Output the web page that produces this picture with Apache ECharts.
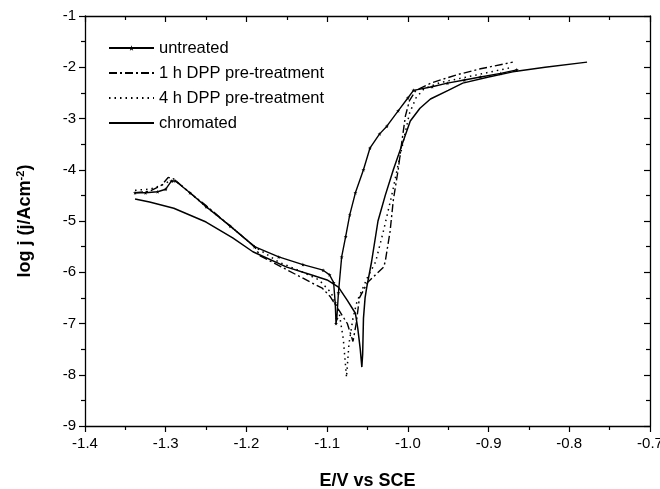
<!DOCTYPE html>
<html><head><meta charset="utf-8">
<script src="https://cdn.jsdelivr.net/npm/echarts@6/dist/echarts.min.js"></script>
<style>html,body{margin:0;padding:0;background:#fff}#c{width:660px;height:489px}</style>
</head><body><div id="c"></div>
<script>
const seriesNames = ['untreated','1 h DPP pre-treatment','4 h DPP pre-treatment','chromated'];
const xTicks = [-1.4,-1.3,-1.2,-1.1,-1.0,-0.9,-0.8,-0.7];
const yTicks = [-1,-2,-3,-4,-5,-6,-7,-8,-9];

const untreatedE = [-1.338,-1.325,-1.31,-1.30,-1.293,-1.288,-1.27,-1.25,-1.22,-1.19,-1.16,-1.13,-1.105,-1.097,-1.092,-1.090,-1.089,-1.088,-1.086,-1.082,-1.077,-1.072,-1.065,-1.055,-1.047,-1.035,-1.026,-1.012,-1.0,-0.993,-0.97,-0.951,-0.93,-0.91,-0.885,-0.865];
const untreatedJ = [-4.45,-4.45,-4.43,-4.38,-4.22,-4.22,-4.45,-4.72,-5.1,-5.5,-5.7,-5.85,-5.96,-6.05,-6.2,-6.6,-7.0,-6.9,-6.4,-5.7,-5.3,-4.88,-4.45,-4.0,-3.58,-3.3,-3.15,-2.85,-2.6,-2.45,-2.38,-2.31,-2.25,-2.19,-2.12,-2.05];

const dpp1E = [-1.338,-1.32,-1.305,-1.297,-1.29,-1.27,-1.25,-1.22,-1.19,-1.183,-1.15,-1.12,-1.106,-1.096,-1.085,-1.075,-1.068,-1.064,-1.06,-1.05,-1.04,-1.03,-1.028,-1.022,-1.018,-1.012,-1.007,-1.003,-0.998,-0.99,-0.97,-0.94,-0.91,-0.87];
const dpp1J = [-4.45,-4.42,-4.3,-4.15,-4.18,-4.45,-4.7,-5.1,-5.5,-5.68,-5.95,-6.2,-6.31,-6.48,-6.75,-7.0,-7.35,-7.0,-6.5,-6.2,-6.05,-5.9,-5.79,-5.2,-4.59,-4.0,-3.4,-2.95,-2.65,-2.45,-2.3,-2.15,-2.03,-1.9];

const dpp4E = [-1.338,-1.32,-1.305,-1.295,-1.285,-1.27,-1.25,-1.22,-1.19,-1.16,-1.13,-1.11,-1.095,-1.085,-1.08,-1.076,-1.073,-1.068,-1.063,-1.05,-1.04,-1.03,-1.02,-1.012,-1.005,-0.998,-0.99,-0.98,-0.96,-0.93,-0.9,-0.87];
const dpp4J = [-4.4,-4.38,-4.3,-4.22,-4.25,-4.45,-4.72,-5.1,-5.5,-5.8,-6.0,-6.15,-6.4,-6.8,-7.3,-8.05,-7.4,-6.9,-6.57,-6.1,-5.8,-5.18,-4.5,-3.9,-3.4,-2.9,-2.6,-2.42,-2.3,-2.2,-2.1,-2.0];

const chromE = [-1.338,-1.32,-1.29,-1.25,-1.217,-1.192,-1.15,-1.12,-1.1,-1.086,-1.075,-1.065,-1.062,-1.059,-1.057,-1.056,-1.055,-1.053,-1.051,-1.045,-1.037,-1.028,-1.018,-1.007,-0.997,-0.985,-0.972,-0.95,-0.932,-0.9,-0.87,-0.83,-0.778];
const chromJ = [-4.57,-4.63,-4.75,-5.02,-5.33,-5.6,-5.9,-6.05,-6.15,-6.29,-6.55,-6.8,-7.1,-7.5,-7.85,-7.6,-6.9,-6.5,-6.3,-5.8,-5.0,-4.5,-4.0,-3.5,-3.05,-2.8,-2.62,-2.45,-2.31,-2.19,-2.09,-2.0,-1.9];

const zip = (a,b) => a.map((v,i)=>[v,b[i]]);
const FONT = 'Liberation Sans, Arial, sans-serif';
const chart = echarts.init(document.getElementById('c'), null, {renderer:'canvas'});
const starPath = 'path://M50,0 L61,35 L98,35 L68,57 L79,91 L50,70 L21,91 L32,57 L2,35 L39,35 Z';
const clear = 'rgba(0,0,0,0)';

const base = {type:'line', xAxisIndex:0, yAxisIndex:0, showSymbol:false, symbol:'circle', smooth:false, animation:false, z:3};
const axisCommon = {
  axisLine:{show:true, onZero:false, lineStyle:{color:'#000', width:1.3}},
  splitLine:{show:false},
};
chart.setOption({
  animation:false,
  grid:{left:85, right:10, top:16, bottom:63, containLabel:false, outerBoundsMode:'none'},
  legend:{
    orient:'vertical', left:103, top:34, itemGap:7, itemWidth:45, itemHeight:7,
    textStyle:{fontFamily:FONT, fontSize:16.5, color:'#000', lineHeight:18},
    data:seriesNames
  },
  xAxis:[
    Object.assign({type:'value', position:'bottom', min:-1.4, max:-0.7, interval:0.1,
      name:'E/V vs SCE', nameLocation:'middle', nameGap:46,
      nameTextStyle:{fontFamily:FONT, fontSize:18, fontWeight:'bold', color:'#000'},
      axisTick:{show:true, inside:false, length:6, lineStyle:{color:'#000', width:1.2}},
      minorTick:{show:true, splitNumber:2, length:4, lineStyle:{color:'#000', width:1.2}},
      axisLabel:{fontFamily:FONT, fontSize:15, color:'#000', margin:10, formatter:v=>v.toFixed(1)}
    }, axisCommon),
    Object.assign({type:'value', position:'top', min:-1.4, max:-0.7, interval:0.1,
      axisTick:{show:true, inside:true, length:6, lineStyle:{color:'#000', width:1.2}},
      minorTick:{show:true, splitNumber:2, length:4, lineStyle:{color:'#000', width:1.2}},
      axisLabel:{show:false}
    }, axisCommon)
  ],
  yAxis:[
    Object.assign({type:'value', position:'left', min:-9, max:-1, interval:1,
      name:'log j (j/Acm{sup|-2})', nameLocation:'middle', nameGap:50, nameRotate:90,
      nameTextStyle:{fontFamily:FONT, fontSize:18, fontWeight:'bold', color:'#000',
        rich:{sup:{fontFamily:FONT, fontSize:11, fontWeight:'bold', color:'#000', verticalAlign:'top', padding:[0,0,9,0]}}},
      axisTick:{show:true, inside:false, length:6, lineStyle:{color:'#000', width:1.2}},
      minorTick:{show:true, splitNumber:2, length:4, lineStyle:{color:'#000', width:1.2}},
      axisLabel:{fontFamily:FONT, fontSize:15, color:'#000', margin:9, formatter:v=>String(v)}
    }, axisCommon),
    Object.assign({type:'value', position:'right', min:-9, max:-1, interval:1,
      axisTick:{show:true, inside:true, length:6, lineStyle:{color:'#000', width:1.2}},
      minorTick:{show:true, splitNumber:2, length:4, lineStyle:{color:'#000', width:1.2}},
      axisLabel:{show:false}
    }, axisCommon)
  ],
  series:[
    Object.assign({}, base, {name:seriesNames[0], data:zip(untreatedE, untreatedJ),
      symbol:starPath, symbolSize:4, showSymbol:true,
      itemStyle:{color:'#000'},
      lineStyle:{color:'#000', width:1.4, type:'solid'}}),
    Object.assign({}, base, {name:seriesNames[1], data:zip(dpp1E, dpp1J),
      itemStyle:{color:clear, borderWidth:0},
      lineStyle:{color:'#000', width:1.4, type:[8,3,2,3]}}),
    Object.assign({}, base, {name:seriesNames[2], data:zip(dpp4E, dpp4J),
      itemStyle:{color:clear, borderWidth:0},
      lineStyle:{color:'#000', width:1.5, type:[1.5,4]}}),
    Object.assign({}, base, {name:seriesNames[3], data:zip(chromE, chromJ),
      itemStyle:{color:clear, borderWidth:0},
      lineStyle:{color:'#000', width:1.5, type:'solid'}})
  ]
});
</script></body></html>
